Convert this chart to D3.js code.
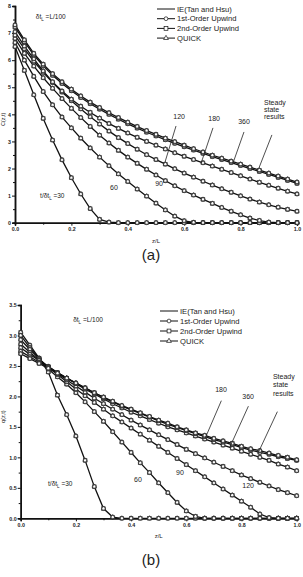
<!DOCTYPE html>
<html><head><meta charset="utf-8">
<script src="https://cdn.jsdelivr.net/npm/d3@7"></script>
<style>
html,body{margin:0;padding:0;background:#fff;}
svg{display:block;}
text{font-family:"Liberation Sans",Arial,sans-serif;fill:#222;}
</style></head>
<body>
<svg id="chart" width="303" height="577"></svg>
<script>
// ---------------- DATA ----------------
const zGrid = [0,0.0333,0.0667,0.1,0.1333,0.1667,0.2,0.2333,0.2667,0.3,0.3333,0.3667,0.4,0.4333,0.4667,0.5,0.5333,0.5667,0.6,0.6333,0.6667,0.7,0.7333,0.7667,0.8,0.8333,0.8667,0.9,0.9333,0.9667,1];
const timeLabels = ["30","60","90","120","180","360","steady"];

// Panel (a): C(z,t)
const cA_30  = [6.50,5.62,4.72,3.85,3.05,2.32,1.66,1.06,0.52,0.12,0.02,0,0,0,0,0,0,0,0,0,0,0,0,0,0,0,0,0,0,0,0];
const cA_60  = [6.65,6.00,5.40,4.84,4.35,3.90,3.50,3.12,2.76,2.42,2.10,1.80,1.52,1.24,0.98,0.72,0.47,0.24,0.07,0.01,0,0,0,0,0,0,0,0,0,0,0];
const cA_90  = [6.80,6.25,5.78,5.35,4.96,4.58,4.22,3.88,3.55,3.23,2.94,2.67,2.42,2.19,1.97,1.76,1.55,1.36,1.18,1.02,0.86,0.71,0.56,0.42,0.29,0.17,0.08,0.02,0,0,0];
const cA_120 = [6.92,6.42,5.96,5.55,5.17,4.82,4.50,4.20,3.91,3.64,3.38,3.14,2.92,2.71,2.51,2.33,2.16,1.99,1.83,1.68,1.53,1.39,1.25,1.12,0.99,0.87,0.76,0.66,0.57,0.49,0.42];
const cA_180 = [7.05,6.52,6.05,5.60,5.20,4.86,4.56,4.30,4.07,3.86,3.66,3.48,3.31,3.15,3.00,2.86,2.72,2.58,2.45,2.33,2.21,2.09,1.97,1.85,1.73,1.61,1.49,1.38,1.27,1.16,1.06];
const cA_360 = [7.22,6.68,6.19,5.79,5.44,5.14,4.87,4.62,4.39,4.19,4.00,3.82,3.65,3.49,3.34,3.20,3.06,2.93,2.80,2.68,2.56,2.44,2.33,2.22,2.11,2.00,1.89,1.78,1.67,1.56,1.45];
const cA_ss  = [7.30,6.75,6.25,5.85,5.50,5.20,4.93,4.68,4.45,4.25,4.06,3.88,3.71,3.55,3.40,3.26,3.12,2.99,2.86,2.73,2.61,2.49,2.38,2.27,2.16,2.05,1.94,1.83,1.72,1.61,1.50];

// Panel (b): q(z,t)
const qB_30  = [3.05,2.84,2.63,2.40,2.02,1.70,1.35,0.95,0.52,0.16,0.02,0,0,0,0,0,0,0,0,0,0,0,0,0,0,0,0,0,0,0,0];
const qB_60  = [3.00,2.80,2.62,2.45,2.32,2.20,2.06,1.91,1.75,1.59,1.42,1.25,1.08,0.91,0.75,0.58,0.42,0.26,0.12,0.03,0,0,0,0,0,0,0,0,0,0,0];
const qB_90  = [2.93,2.77,2.62,2.48,2.36,2.24,2.12,2.01,1.90,1.79,1.68,1.58,1.48,1.38,1.28,1.18,1.08,0.98,0.88,0.78,0.68,0.58,0.48,0.38,0.28,0.18,0.07,0.01,0,0,0];
const qB_120 = [2.86,2.72,2.60,2.49,2.38,2.27,2.17,2.07,1.97,1.88,1.79,1.70,1.61,1.53,1.45,1.37,1.29,1.21,1.13,1.06,0.99,0.92,0.85,0.78,0.71,0.65,0.59,0.53,0.47,0.42,0.37];
const qB_180 = [2.80,2.69,2.59,2.49,2.39,2.30,2.21,2.12,2.04,1.96,1.88,1.81,1.74,1.68,1.62,1.56,1.50,1.45,1.40,1.35,1.30,1.25,1.20,1.15,1.10,1.05,1.00,0.95,0.89,0.84,0.78];
const qB_360 = [2.74,2.65,2.56,2.48,2.39,2.30,2.22,2.14,2.06,1.98,1.91,1.84,1.78,1.72,1.66,1.60,1.54,1.49,1.44,1.39,1.34,1.29,1.25,1.21,1.16,1.12,1.08,1.05,1.01,0.98,0.95];
const qB_ss  = [2.70,2.62,2.54,2.46,2.38,2.30,2.22,2.14,2.06,1.99,1.92,1.85,1.79,1.73,1.67,1.61,1.56,1.50,1.45,1.40,1.36,1.31,1.27,1.23,1.18,1.14,1.11,1.07,1.03,1.00,0.96];

const schemes = ["IE(Tan and Hsu)","1st-Order Upwind","2nd-Order Upwind","QUICK"];
const xTicksMajor = [0,0.2,0.4,0.6,0.8,1.0];
const xTicksMinor = [0.1,0.3,0.5,0.7,0.9];
const yTicksA = [0,1,2,3,4,5,6,7,8];
const yMinorA = [0.5,1.5,2.5,3.5,4.5,5.5,6.5,7.5];
const yTicksB = [0,0.5,1.0,1.5,2.0,2.5,3.0,3.5];
const yMinorB = [0.25,0.75,1.25,1.75,2.25,2.75,3.25];

// ---------------- DRAW ----------------
const svg = d3.select("#chart");

function panel(opt){
  const x = d3.scaleLinear().domain([0,1]).range([opt.x0,opt.x1]);
  const y = d3.scaleLinear().domain([0,opt.ymax]).range([opt.y0,opt.y1]);
  const g = svg.append("g");

  // axes
  const xa = d3.axisBottom(x).tickValues(xTicksMajor).tickSize(3).tickFormat(d3.format(".1f"));
  const xm = d3.axisBottom(x).tickValues(xTicksMinor).tickSize(2).tickFormat("");
  const ya = d3.axisLeft(y).tickValues(opt.yTicks).tickSize(3).tickFormat(opt.yFmt);
  const ym = d3.axisLeft(y).tickValues(opt.yMinor).tickSize(2).tickFormat("");
  [xa,xm].forEach(ax=>{
    const a = g.append("g").attr("transform",`translate(0,${opt.y0})`).call(ax);
    a.select(".domain").attr("stroke","#111").attr("stroke-width",1.5);
    a.selectAll(".tick line").attr("stroke","#111").attr("stroke-width",1);
    a.selectAll("text").attr("font-size",5.3).attr("font-weight","bold").attr("fill","#222").attr("dy","0.9em").attr("y",3.5);
  });
  [ya,ym].forEach(ax=>{
    const a = g.append("g").attr("transform",`translate(${opt.x0},0)`).call(ax);
    a.select(".domain").attr("stroke","#111").attr("stroke-width",1.5);
    a.selectAll(".tick line").attr("stroke","#111").attr("stroke-width",1);
    a.selectAll("text").attr("font-size",5.3).attr("font-weight","bold").attr("fill","#222").attr("x",-4);
  });

  // axis titles
  g.append("text").attr("x",(opt.x0+opt.x1)/2).attr("y",opt.y0+20).attr("text-anchor","middle")
    .attr("font-size",6).attr("fill","#444").text("z/L");
  g.append("text").attr("transform",`translate(5,${(opt.y0+opt.y1)/2+5}) rotate(-90)`).attr("text-anchor","middle")
    .attr("font-size",5.5).attr("fill","#444").text(opt.yTitle);

  // curves
  const line = d3.line().x(d=>x(d.z)).y(d=>y(d.v));
  opt.series.forEach(arr=>{
    const pts = zGrid.map((z,i)=>({z:z,v:arr[i]}));
    g.append("path").datum(pts).attr("d",line).attr("fill","none").attr("stroke","#111").attr("stroke-width",1.3);
  });
  opt.series.forEach(arr=>{
    const pts = zGrid.map((z,i)=>({z:z,v:arr[i]}));
    g.selectAll(null).data(pts).enter().append("circle")
      .attr("cx",d=>x(d.z)).attr("cy",d=>y(d.v)).attr("r",2.0)
      .attr("fill","#fff").attr("stroke","#222").attr("stroke-width",0.7);
    g.selectAll(null).data(pts).enter().append("rect")
      .attr("x",d=>x(d.z)-1.8).attr("y",d=>y(d.v)-1.8).attr("width",3.6).attr("height",3.6)
      .attr("fill","none").attr("stroke","#333").attr("stroke-width",0.55);
    g.selectAll(null).data(pts).enter().append("path")
      .attr("d",d3.symbol(d3.symbolTriangle,9))
      .attr("transform",d=>`translate(${x(d.z)},${y(d.v)})`)
      .attr("fill","none").attr("stroke","#333").attr("stroke-width",0.55);
  });

  // legend
  const lg = g.append("g");
  schemes.forEach((s,i)=>{
    const ly = opt.legY + i*opt.legDy;
    lg.append("line").attr("x1",opt.legX).attr("x2",opt.legX+18).attr("y1",ly).attr("y2",ly)
      .attr("stroke","#111").attr("stroke-width",1);
    const cx = opt.legX+9;
    if(i===1) lg.append("circle").attr("cx",cx).attr("cy",ly).attr("r",1.9).attr("fill","#fff").attr("stroke","#111").attr("stroke-width",0.7);
    if(i===2) lg.append("rect").attr("x",cx-1.9).attr("y",ly-1.9).attr("width",3.8).attr("height",3.8).attr("fill","#fff").attr("stroke","#111").attr("stroke-width",0.7);
    if(i===3) lg.append("path").attr("d",d3.symbol(d3.symbolTriangle,10)).attr("transform",`translate(${cx},${ly})`).attr("fill","#fff").attr("stroke","#111").attr("stroke-width",0.7);
    lg.append("text").attr("x",opt.legX+20).attr("y",ly+2.6).attr("font-size",7.6).attr("fill","#333").text(s);
  });

  // annotations (data coordinates)
  const note = (z,v,txt,anchor)=> g.append("text").attr("x",x(z)).attr("y",y(v))
      .attr("text-anchor",anchor||"middle").attr("font-size",7).attr("fill","#333").text(txt);
  const dtl = (z,v,pre,post)=>{
    const t = g.append("text").attr("x",x(z)).attr("y",y(v)).attr("font-size",6.5).attr("fill","#333");
    t.append("tspan").text(pre+"\u03B4t");
    t.append("tspan").attr("font-size",4.5).attr("dy",1.5).text("L");
    t.append("tspan").attr("dy",-1.5).text(" ="+post);
  };
  dtl(opt.dtPos[0],opt.dtPos[1],"","L/100");
  dtl(opt.t30Pos[0],opt.t30Pos[1],"t/","30");
  opt.labels.forEach(l=>note(l[0],l[1],l[2]));
  opt.ss.forEach((v,i)=>note(opt.ssZ,v,["Steady","state","results"][i],"start"));
  opt.arrows.forEach(a=>{
    g.append("line").attr("x1",x(a[0])).attr("y1",y(a[1])).attr("x2",x(a[2])).attr("y2",y(a[3]))
      .attr("stroke","#222").attr("stroke-width",0.8);
  });

  // panel tag
  svg.append("text").attr("x",opt.tag[0]).attr("y",opt.tag[1]).attr("text-anchor","middle")
    .attr("font-size",15).attr("font-family",opt.tagFont).attr("fill","#111").text(opt.tagText);
}

panel({
  x0:15,x1:297,y0:222.7,y1:6,ymax:8,yTicks:yTicksA,yMinor:yMinorA,yFmt:d3.format("d"),
  yTitle:"C(z,t)",
  series:[cA_30,cA_60,cA_90,cA_120,cA_180,cA_360,cA_ss],
  legX:157,legY:9,legDy:9.7,
  dtPos:[0.074,7.52],t30Pos:[0.089,0.91],
  labels:[[0.351,1.19,"60"],[0.511,1.34,"90"],[0.582,3.81,"120"],[0.706,3.74,"180"],[0.812,3.63,"360"]],
  ssZ:0.883,ss:[4.36,4.09,3.81],
  arrows:[[0.571,3.57,0.532,2.24],[0.702,3.50,0.660,2.20],[0.812,3.35,0.773,2.20],[0.911,3.24,0.865,2.02]],
  tag:[151,260],tagText:"(a)",tagFont:"Liberation Sans"
});

panel({
  x0:20.7,x1:296.7,y0:518.3,y1:305,ymax:3.5,yTicks:yTicksB,yMinor:yMinorB,yFmt:d3.format(".1f"),
  yTitle:"q(z,t)",
  series:[qB_30,qB_60,qB_90,qB_120,qB_180,qB_360,qB_ss],
  legX:160,legY:311,legDy:10,
  dtPos:[0.19,3.22],t30Pos:[0.099,0.53],
  labels:[[0.425,0.60,"60"],[0.577,0.71,"90"],[0.824,0.49,"120"],[0.726,2.08,"180"],[0.824,1.96,"360"]],
  ssZ:0.914,ss:[2.29,2.15,2.01],
  arrows:[[0.727,1.93,0.668,1.31],[0.825,1.84,0.758,1.17],[0.930,1.75,0.861,1.08]],
  tag:[151,565],tagText:"(b)",tagFont:"Liberation Serif"
});
</script>
</body></html>
